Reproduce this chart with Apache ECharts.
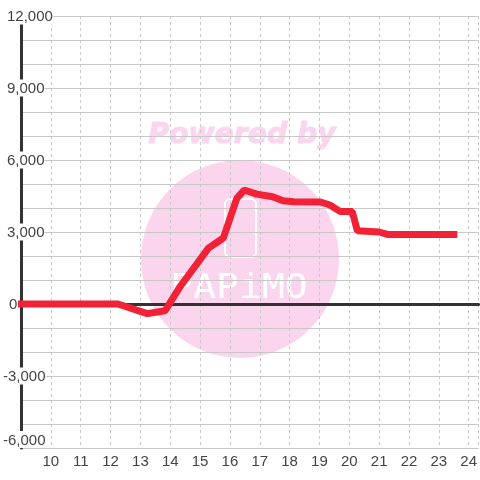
<!DOCTYPE html>
<html>
<head>
<meta charset="utf-8">
<style>html,body{margin:0;background:#fff}#chart{width:480px;height:480px}</style>
<script src="https://cdn.jsdelivr.net/npm/echarts@6/dist/echarts.min.js"></script>
</head>
<body>
<div id="chart"></div>
<script>
var hours = [8.9, 12.25, 13.23, 13.83, 14.33, 15.28, 15.78, 16.23, 16.48, 16.9, 17.43, 17.78, 18.13, 19.03, 19.35, 19.7, 20.1, 20.27, 21.0, 21.28, 23.62];
var values = [0, 0, -400, -280, 720, 2330, 2750, 4400, 4750, 4580, 4470, 4300, 4260, 4250, 4125, 3850, 3850, 3050, 3000, 2900, 2900];
var points = hours.map(function (h, i) { return [h, values[i]]; });

var gridColor = '#c8c8c8';
var textColor = '#444';

var myChart = echarts.init(document.getElementById('chart'));
var option = {
    animation: false,
    backgroundColor: '#fff',
    textStyle: { fontFamily: 'Liberation Sans' },
    grid: { left: 20, top: 16, width: 460, height: 432 },
    graphic: [
        { type: 'circle', z: -1, shape: { cx: 240, cy: 259, r: 99 }, style: { fill: '#fbd5ee' } },
        { type: 'text', z: -1, x: 242, y: 136, style: { text: 'Powered by', fill: '#fbd5ee', stroke: '#fbd5ee', lineWidth: 1, font: 'italic bold 28.3px "DejaVu Sans"', align: 'center', verticalAlign: 'middle' } },
        { type: 'rect', z: -1, shape: { x: 225, y: 199, width: 31, height: 58, r: 5 }, style: { fill: 'none', stroke: '#fff', lineWidth: 2 } },
        { type: 'text', z: -1, x: 239, y: 289, scaleX: 1.12, style: { text: 'PAPiMO', fill: '#fff', font: '34px "DejaVu Sans Mono"', align: 'center', verticalAlign: 'middle' } }
    ],
    xAxis: [
        {
            type: 'value',
            position: 'bottom',
            min: 9,
            max: 24.33,
            interval: 1,
            axisLine: { show: false, onZero: false },
            axisTick: { show: false },
            axisLabel: {
                color: textColor,
                fontSize: 15,
                margin: 6,
                showMinLabel: false,
                showMaxLabel: false
            },
            splitLine: { show: true, lineStyle: { color: gridColor, type: [3, 3], width: 1 } }
        },
        {
            // zero line, labels stay on the first axis
            type: 'value',
            position: 'bottom',
            min: 9,
            max: 24.33,
            interval: 1,
            axisLine: { show: true, onZero: true, lineStyle: { color: '#333', width: 3 } },
            axisTick: { show: false },
            axisLabel: { show: false },
            splitLine: { show: false }
        }
    ],
    yAxis: {
        type: 'value',
        min: -6000,
        max: 12000,
        interval: 3000,
        axisLine: { show: true, onZero: false, lineStyle: { color: '#333', width: 3 } },
        axisTick: { show: false },
        minorTick: { show: false, splitNumber: 3 },
        axisLabel: {
            align: 'left',
            margin: 18,
            verticalAlignMinLabel: 'bottom',
            backgroundColor: '#fff',
            formatter: function (v) {
                var s = v.toLocaleString('en-US');
                if (v === 0) return '{z|' + s + '}';
                return v < 0 ? '{n|' + s + '}' : '{p|' + s + '}';
            },
            rich: {
                p: { color: textColor, fontSize: 15, padding: [2, 0, 0, 4] },
                n: { color: textColor, fontSize: 15, padding: [2, 0, 0, 0] },
                z: { color: textColor, fontSize: 15, padding: [2, 0, 0, 6] }
            }
        },
        splitLine: { show: true, lineStyle: { color: gridColor, width: 1 } },
        minorSplitLine: { show: true, lineStyle: { color: gridColor, width: 1 } }
    },
    series: [
        {
            type: 'line',
            data: points,
            clip: false,
            symbol: 'none',
            lineStyle: { color: '#f12236', width: 7 }
        }
    ]
};
myChart.setOption(option);
</script>
</body>
</html>
